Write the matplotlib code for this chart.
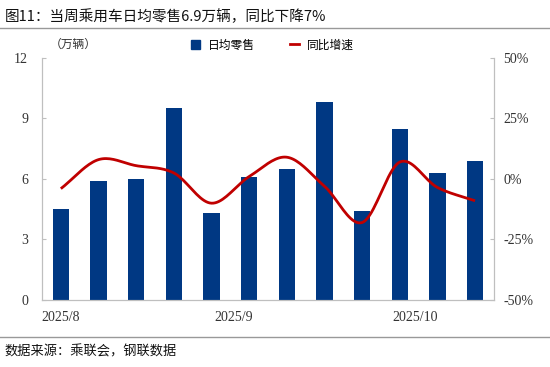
import numpy as np
import matplotlib
matplotlib.use("Agg")
import matplotlib.pyplot as plt
from matplotlib.lines import Line2D
from matplotlib.patches import Patch

plt.rcParams['font.family'] = ['Noto Sans CJK SC', 'DejaVu Sans']

# weekly daily-average retail (10k units) and YoY growth (%)
sales = [4.5, 5.9, 6.0, 9.5, 4.3, 6.1, 6.5, 9.8, 4.4, 8.5, 6.3, 6.9]
yoy = [-4, 8, 5.5, 2.5, -10, 1, 9, -3, -18, 7, -3.5, -9]
month_labels = ["2025/8", "2025/9", "2025/10"]
month_pos = [0, 4.6, 9.4]

BLUE = "#003883"
RED = "#C00000"
GRAY = "#BFBFBF"
SERIF = "Liberation Serif"


def smooth(xs, ys, n=20):
    # catmull-rom spline, similar to Excel's smoothed line
    xs, ys = np.asarray(xs, float), np.asarray(ys, float)
    px = np.concatenate([[2 * xs[0] - xs[1]], xs, [2 * xs[-1] - xs[-2]]])
    py = np.concatenate([[2 * ys[0] - ys[1]], ys, [2 * ys[-1] - ys[-2]]])
    ox, oy = [], []
    t = np.linspace(0, 1, n, endpoint=False)
    for i in range(1, len(px) - 2):
        for p, out in ((px, ox), (py, oy)):
            p0, p1, p2, p3 = p[i - 1], p[i], p[i + 1], p[i + 2]
            out.extend(0.5 * (2 * p1 + (-p0 + p2) * t
                              + (2 * p0 - 5 * p1 + 4 * p2 - p3) * t ** 2
                              + (-p0 + 3 * p1 - 3 * p2 + p3) * t ** 3))
    ox.append(xs[-1]); oy.append(ys[-1])
    return np.array(ox), np.array(oy)


fig = plt.figure(figsize=(5.5, 3.67), dpi=100)
ax = fig.add_axes([0.0764, 0.1826, 0.8216, 0.6594])
x = np.arange(len(sales))
ax.bar(x, sales, width=0.43, color=BLUE, zorder=2)
ax.set_xlim(-0.5, len(sales) - 0.5)
ax.set_ylim(0, 12)
ax.set_yticks([0, 3, 6, 9, 12])
ax.set_xticks(month_pos)
ax.set_xticklabels(month_labels)

ax2 = ax.twinx()
sx, sy = smooth(x, yoy)
ax2.plot(sx, sy, color=RED, lw=2, solid_capstyle="butt", zorder=3)
ax2.set_ylim(-50, 50)
ax2.set_yticks([-50, -25, 0, 25, 50])
ax2.set_yticklabels([f"{v}%" for v in [-50, -25, 0, 25, 50]])

for a in (ax, ax2):
    for s in a.spines.values():
        s.set_color(GRAY)
    a.spines["top"].set_visible(False)
    a.tick_params(axis="y", direction="in", length=3, color=GRAY, labelsize=10,
                  labelcolor="#333333")
    for lab in a.get_yticklabels():
        lab.set_fontfamily(SERIF)
ax.tick_params(axis="y", pad=10)
ax2.tick_params(axis="y", pad=7)
ax.tick_params(axis="x", length=0, pad=8, labelsize=10, labelcolor="#333333")
for lab in ax.get_xticklabels():
    lab.set_fontfamily(SERIF)

fig.text(0.09, 0.88, "（万辆）", fontsize=8.5, color="#333333", va="center")
handles = [Patch(color=BLUE), Line2D([], [], color=RED, lw=2)]
fig.legend(handles, ["日均零售", "同比增速"], loc="center", bbox_to_anchor=(0.495, 0.877),
           ncol=2, frameon=False, fontsize=8.5, handlelength=0.8, handleheight=0.8,
           columnspacing=3, handletextpad=0.6)

fig.text(0.008, 0.955, "图11：当周乘用车日均零售6.9万辆，同比下降7%", fontsize=10.5,
         va="center", color="#111111")
fig.add_artist(Line2D([0, 1], [0.923, 0.923], color="#999999", lw=1))
fig.add_artist(Line2D([0, 1], [0.082, 0.082], color="#999999", lw=1))
fig.text(0.008, 0.04, "数据来源：乘联会，钢联数据", fontsize=9.5, va="center", color="#111111")

fig.savefig("out.png", dpi=100)
